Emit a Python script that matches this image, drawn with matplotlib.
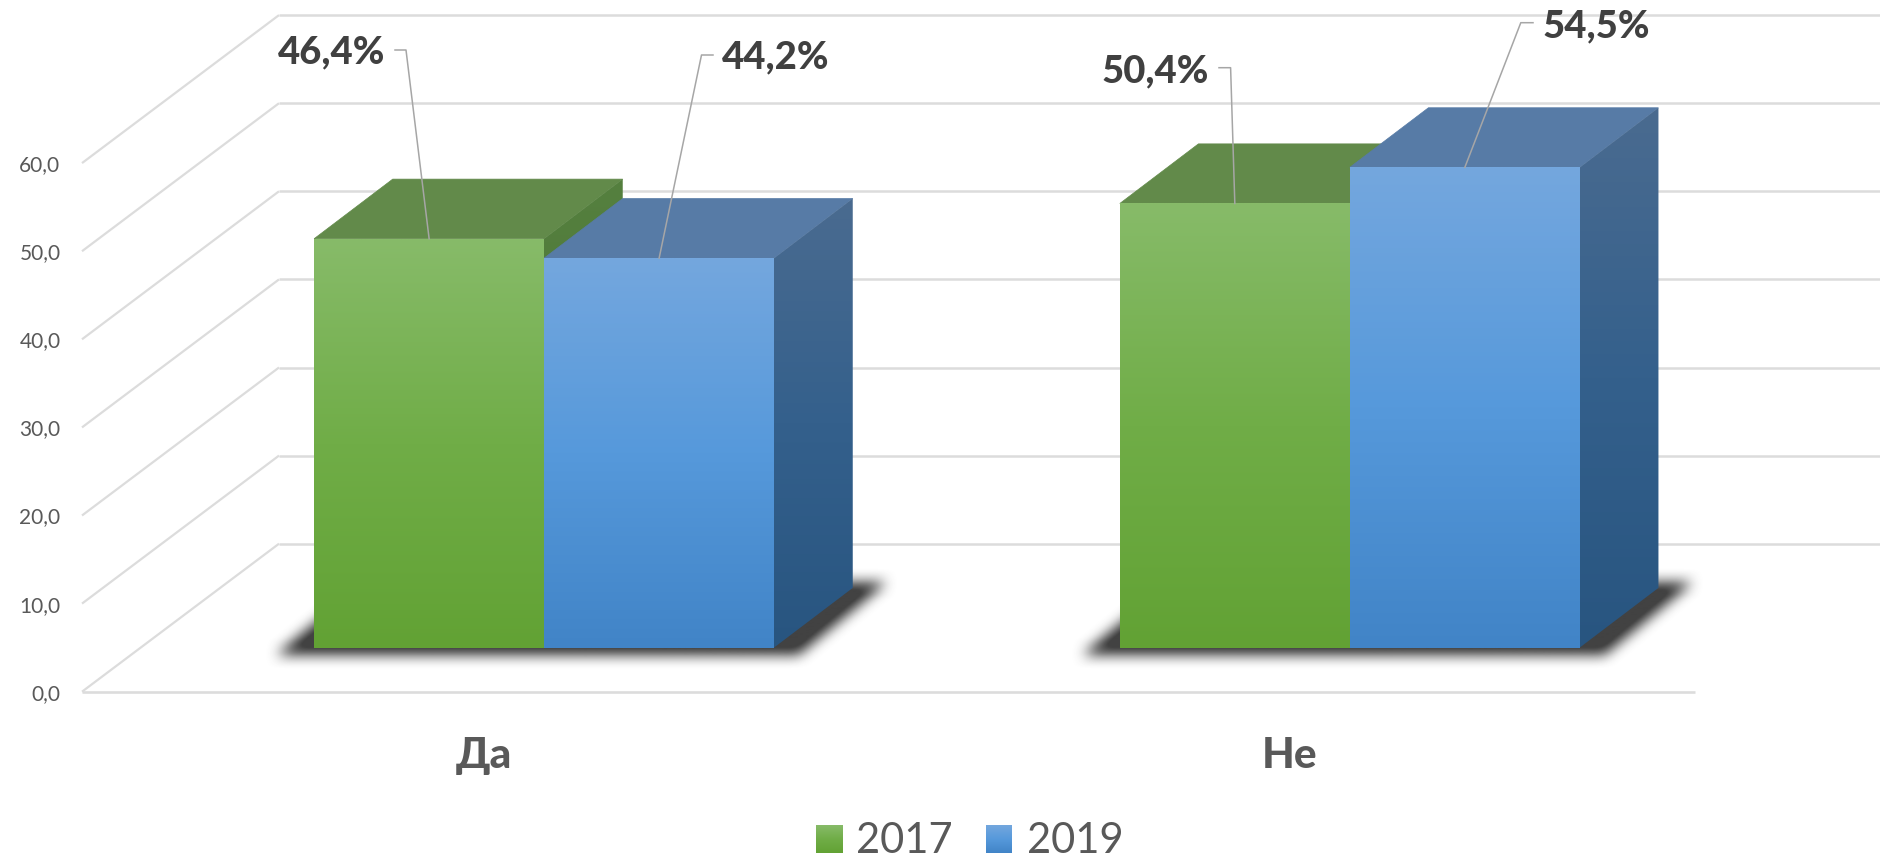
import numpy as np
import matplotlib
matplotlib.use('Agg')
import matplotlib.pyplot as plt
from matplotlib.colors import LinearSegmentedColormap, to_rgb
from matplotlib.patches import Polygon
from matplotlib.path import Path

plt.rcParams['font.family'] = ['Lato', 'DejaVu Sans']

categories = ['Да', 'Не']
years = ['2017', '2019']
values_2017 = [46.4, 50.4]
values_2019 = [44.2, 54.5]
ticks = [0, 10, 20, 30, 40, 50, 60]

# chart geometry, in picture pixels
W, H = 1880, 856
X0, Y0 = 82.0, 691.7       # front floor corner
CAT_PX = 806.5             # one category along the front floor line
VAL_PX = 8.81              # one value unit
WALL_DX, WALL_DY = 197.0, 148.0
BAR_DX, BAR_DY = 60.5, 44.2      # front of the bars behind the floor edge
SIDE_DX, SIDE_DY = 78.6, 59.6    # bar depth
GROUP_POS = [0.498, 1.497]
BAR_W = 0.2852

GRID = '#dcdcdc'
TEXT = '#595959'
LABEL = '#404040'
LEADER = '#a6a6a6'

STYLES = {
    '2017': dict(front=['#87bb69', '#70ad47', '#62a234'], top='#628a4a', side=['#55803f', '#466f30']),
    '2019': dict(front=['#74a7de', '#5699db', '#4184c7'], top='#577ba6', side=['#4a6b90', '#34608c', '#285580']),
}

# elbow of the leader, its end and the baseline start of the label, pixels
leaders = {
    ('2017', 0): dict(elbow=(406, 50), end=(395, 50), text=(385, 63.5), ha='right'),
    ('2019', 0): dict(elbow=(701.5, 55), end=(713, 55), text=(722, 68.5), ha='left'),
    ('2017', 1): dict(elbow=(1230.6, 67.7), end=(1219, 67.7), text=(1209, 82.5), ha='right'),
    ('2019', 1): dict(elbow=(1520.8, 22.7), end=(1533, 22.7), text=(1543, 37.7), ha='left'),
}

fig = plt.figure(figsize=(W / 100, H / 100), dpi=100, facecolor='white')
ax = fig.add_axes([0, 0, 1, 1])
ax.set_xlim(-X0 / CAT_PX, (W - X0) / CAT_PX)
ax.set_ylim((Y0 - H) / VAL_PX, Y0 / VAL_PX)
ax.axis('off')
ax.autoscale(False)


def px(x, y):
    return (x - X0) / CAT_PX, (Y0 - y) / VAL_PX


def shift(x, v, dx, dy):
    # oblique step into the chart, dx and dy are pixels
    return x + dx / CAT_PX, v + dy / VAL_PX


def gradient(points, colors, zorder):
    points = np.array(points)
    cmap = LinearSegmentedColormap.from_list('g', colors)
    extent = (points[:, 0].min(), points[:, 0].max(), points[:, 1].min(), points[:, 1].max())
    im = ax.imshow(np.linspace(0, 1, 256)[:, None], cmap=cmap, vmin=0, vmax=1, aspect='auto',
                   extent=extent, origin='upper', interpolation='bilinear', zorder=zorder)
    patch = Polygon(points, closed=True, facecolor='none', edgecolor='none', zorder=zorder)
    ax.add_patch(patch)
    im.set_clip_path(patch)


def shadow(left, right, zorder):
    lx, fy = shift(left, 0, BAR_DX - 38, BAR_DY - 7)
    rx, _ = shift(right, 0, BAR_DX + 24, 0)
    _, by = shift(0, 0, 0, BAR_DY + 65)
    off_x = 88 / CAT_PX
    poly = Path([(lx, fy), (rx, fy), (rx + off_x, by), (lx + off_x, by)])

    x0, x1 = lx - 50 / CAT_PX, rx + off_x + 50 / CAT_PX
    y0, y1 = fy - 50 / VAL_PX, by + 50 / VAL_PX
    nx = int((x1 - x0) * CAT_PX)
    ny = int((y1 - y0) * VAL_PX)
    gx, gy = np.meshgrid(np.linspace(x0, x1, nx), np.linspace(y0, y1, ny))
    mask = poly.contains_points(np.c_[gx.ravel(), gy.ravel()]).reshape(ny, nx).astype(float)
    kernel = np.ones(15) / 15
    for _ in range(2):
        mask = np.apply_along_axis(lambda r: np.convolve(r, kernel, 'same'), 1, mask)
        mask = np.apply_along_axis(lambda c: np.convolve(c, kernel, 'same'), 0, mask)
    rgba = np.zeros((ny, nx, 4))
    rgba[..., :3] = to_rgb('#383838')
    rgba[..., 3] = np.clip(mask * 1.1, 0, 0.95)
    ax.imshow(rgba, extent=(x0, x1, y0, y1), origin='lower', aspect='auto', zorder=zorder)


def bar(left, width, value, year, zorder):
    st = STYLES[year]
    fx0, fv0 = shift(left, 0, BAR_DX, BAR_DY)
    fx1 = fx0 + width
    fv1 = fv0 + value
    sx, sv = SIDE_DX / CAT_PX, SIDE_DY / VAL_PX
    overlap = 1.5 / CAT_PX  # no seam between side and front
    ax.add_patch(Polygon([(fx0, fv1), (fx1, fv1), (fx1 + sx, fv1 + sv), (fx0 + sx, fv1 + sv)],
                         facecolor=st['top'], edgecolor=st['top'], lw=0.5, zorder=zorder))
    gradient([(fx1 - overlap, fv0), (fx1, fv0), (fx1 + sx, fv0 + sv), (fx1 + sx, fv1 + sv), (fx1, fv1), (fx1 - overlap, fv1)],
             st['side'], zorder + 0.1)
    gradient([(fx0, fv0), (fx1, fv0), (fx1, fv1), (fx0, fv1)], st['front'], zorder + 0.2)
    return (fx0 + fx1) / 2, fv1


# gridlines
for t in ticks:
    bx, bv = shift(0, t, WALL_DX, WALL_DY)
    ax.plot([0, bx], [t, bv], color=GRID, lw=1.6, zorder=1, solid_capstyle='butt')
    ax.plot([bx, 3], [bv, bv], color=GRID, lw=1.8, zorder=1, solid_capstyle='butt')
    ax.text(px(60.5, 0)[0], t - 2 / VAL_PX, f'{t:.1f}'.replace('.', ','), ha='right', va='center',
            fontsize=15, color=TEXT, zorder=10)
ax.plot([0, 2], [0, 0], color=GRID, lw=1.9, zorder=1, solid_capstyle='butt')

# bars, left one first so the right one overlaps it
for i, pos in enumerate(GROUP_POS):
    shadow(pos - BAR_W, pos + BAR_W, 2)
    anchors = {}
    anchors['2017'] = bar(pos - BAR_W, BAR_W, values_2017[i], '2017', 3)
    anchors['2019'] = bar(pos, BAR_W, values_2019[i], '2019', 4)
    for year, val in zip(years, (values_2017[i], values_2019[i])):
        ld = leaders[(year, i)]
        ex, ev = px(*ld['elbow'])
        tx, tv = px(*ld['end'])
        ax.plot([anchors[year][0], ex, tx], [anchors[year][1], ev, tv], color=LEADER, lw=1.1, zorder=6)
        lx, lv = px(*ld['text'])
        ax.text(lx, lv, f'{val:.1f}%'.replace('.', ','), ha=ld['ha'], va='baseline',
                fontsize=27.5, fontweight='black', color=LABEL, zorder=10)
    ax.text(pos, px(0, 768)[1], categories[i], ha='center', va='baseline', fontsize=30.5,
            fontweight='black', color=TEXT, zorder=10)

# legend
legend_boxes = [(816.3, 843.3), (985.6, 1012.3)]
legend_text = [856.5, 1027]
for year, box, tx in zip(years, legend_boxes, legend_text):
    x0, v0 = px(box[0], 852.7)
    x1, v1 = px(box[1], 825)
    gradient([(x0, v0), (x1, v0), (x1, v1), (x0, v1)], STYLES[year]['front'], 5)
    ax.text(px(tx, 0)[0], px(0, 852.7)[1], year, ha='left', va='baseline', fontsize=30, color=TEXT, zorder=10)

fig.savefig('out.png', dpi=100, facecolor='white')
